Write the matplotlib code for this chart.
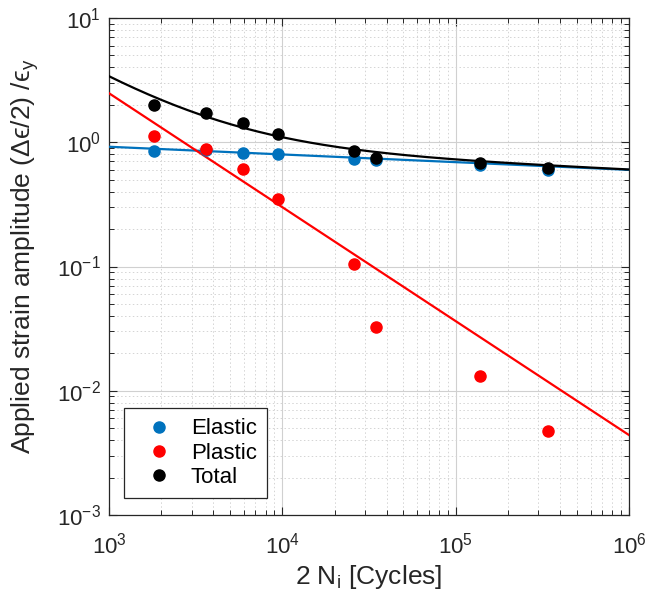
import numpy as np
import matplotlib.pyplot as plt

# data
cycles = [1820, 3610, 5960, 9440, 25900, 34600, 139000, 342000]
elastic = [0.855, 0.866, 0.824, 0.804, 0.733, 0.719, 0.656, 0.598]
plastic = [1.13, 0.877, 0.606, 0.347, 0.105, 0.0328, 0.0132, 0.00474]
total = [2.00, 1.73, 1.44, 1.16, 0.855, 0.751, 0.677, 0.617]

# fitted power laws: coefficient at 2N = 1e3, exponent
elastic_fit = (0.92, -0.062)
plastic_fit = (2.48, -0.917)

plt.rcParams['font.family'] = ['Liberation Sans', 'DejaVu Sans']
plt.rcParams['mathtext.fontset'] = 'custom'
plt.rcParams['mathtext.rm'] = 'Liberation Sans'
plt.rcParams['mathtext.it'] = 'Liberation Sans:italic'
plt.rcParams['mathtext.default'] = 'regular'

dark = '#262626'
blue = '#0072BD'
red = '#FF0000'

fig = plt.figure(figsize=(6.51, 6.09), dpi=100)
ax = fig.add_axes([109 / 651, 1 - 515 / 609, 520 / 651, 497 / 609])

xf = np.logspace(3, 6, 200)
ye = elastic_fit[0] * (xf / 1e3) ** elastic_fit[1]
yp = plastic_fit[0] * (xf / 1e3) ** plastic_fit[1]

ax.plot(xf, ye, color=blue, lw=1.6, zorder=3)
ax.plot(xf, yp, color=red, lw=1.6, zorder=3)
ax.plot(xf, ye + yp, color='black', lw=1.6, zorder=3)

ax.plot(cycles, elastic, 'o', color=blue, ms=8, label='Elastic', zorder=4)
ax.plot(cycles, plastic, 'o', color=red, ms=8, label='Plastic', zorder=4)
ax.plot(cycles, total, 'o', color='black', ms=8, label='Total', zorder=5)

ax.set_xscale('log')
ax.set_yscale('log')
ax.set_xlim(1e3, 1e6)
ax.set_ylim(1e-3, 1e1)

ax.grid(True, which='major', color='#d0d0d0', lw=0.8, ls='-')
ax.grid(True, which='minor', color='#d4d4d4', lw=0.7, ls=(0, (1.5, 2.5)))
ax.set_axisbelow(True)

ax.tick_params(which='both', direction='in', top=True, right=True, colors=dark,
               labelsize=16)
ax.tick_params(axis='x', which='major', pad=13)
ax.tick_params(axis='y', which='major', pad=6)
ax.tick_params(which='major', length=6, width=0.8)
ax.tick_params(which='minor', length=3.5, width=0.7)
for s in ax.spines.values():
    s.set_color(dark)
    s.set_linewidth(0.9)

ax.set_xlabel(r'2 N$_\mathregular{i}$ [Cycles]', fontsize=19, color=dark, labelpad=3)
ax.set_ylabel('Applied strain amplitude (Δϵ/2) /ϵ$_\\mathregular{y}$', fontsize=19,
              color=dark)
ax.yaxis.set_label_coords(-0.13, 0.52)

leg = ax.legend(loc='lower left', bbox_to_anchor=(0.029, 0.034), borderaxespad=0,
                fontsize=16, frameon=True, fancybox=False, handletextpad=0.36,
                borderpad=0.45, labelspacing=0.15, handlelength=2.2, framealpha=1)
leg.get_frame().set_edgecolor(dark)
leg.get_frame().set_linewidth(0.9)

fig.savefig('out.png', dpi=100)
